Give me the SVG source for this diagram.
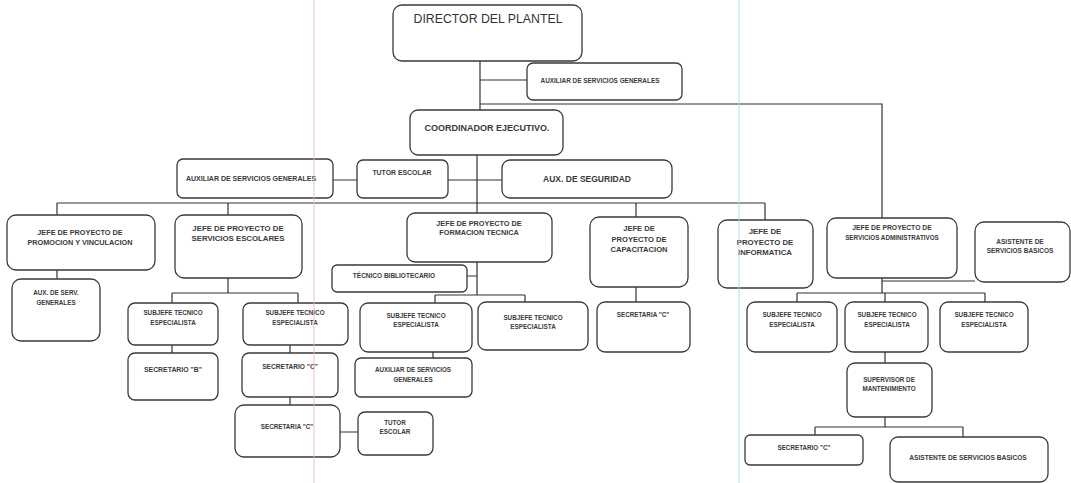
<svg xmlns="http://www.w3.org/2000/svg" width="1071" height="483" viewBox="0 0 1071 483">
<style>
.b{fill:#fff;stroke:#3a3a3a;stroke-width:1.3}
.t{font-family:"Liberation Sans",Arial,sans-serif;font-weight:bold;fill:#3a3a3a;text-anchor:middle}
.c{fill:none;stroke:#333;stroke-width:1.2}
</style>
<rect width="1071" height="483" fill="#fff"/>
<g id="connectors" class="c">
<path d="M480 61V110M480 80H527M480 104H882V218"/>
<path d="M477 155V213M333 180H357M448 180H502"/>
<path d="M57 203H765M57 203V215M765 203V220M228 203V215M636 203V217M57 270V279"/>
<path d="M228 278V293M172 293H298M172 293V303M298 293V303M172 345V353M290 345V353M290 397V405M340 432H358"/>
<path d="M467 276H477M477 262V295M435 295H525M435 295V303M525 295V302M433 352V358"/>
<path d="M636 287V302"/>
<path d="M882 278V293M797 293H985M797 293V302M985 293V302M885 293V302M882 281H975"/>
<path d="M885 352V363M885 417V427M815 427H963M815 427V435M963 427V437"/>
</g>
<g id="director"><rect class="b" x="393" y="5" width="189" height="56" rx="9"/><text x="488" y="23" font-family="Liberation Sans, Arial, sans-serif" font-size="12.3" fill="#333" text-anchor="middle">DIRECTOR DEL PLANTEL</text></g>
<g id="aux_top"><rect class="b" x="527" y="63" width="155" height="37" rx="6"/><text class="t" x="600" y="83" font-size="6.4">AUXILIAR DE SERVICIOS GENERALES</text></g>
<g id="coordinador"><rect class="b" x="410" y="110" width="153" height="45" rx="8"/><text class="t" x="487" y="131" font-size="9">COORDINADOR EJECUTIVO.</text></g>
<g id="aux_row2"><rect class="b" x="177" y="159" width="156" height="39" rx="6"/><text class="t" x="251" y="181" font-size="7">AUXILIAR DE SERVICIOS GENERALES</text></g>
<g id="tutor1"><rect class="b" x="357" y="160" width="91" height="38" rx="6"/><text class="t" x="402" y="175" font-size="6.9">TUTOR ESCOLAR</text></g>
<g id="aux_seg"><rect class="b" x="502" y="160" width="170" height="38" rx="8"/><text class="t" x="587" y="182" font-size="8.5">AUX. DE SEGURIDAD</text></g>
<g id="jefe_prom"><rect class="b" x="7" y="215" width="148" height="55" rx="9"/><text class="t" x="80" y="235" font-size="7.3">JEFE DE PROYECTO DE</text><text class="t" x="80" y="245" font-size="7.3">PROMOCION Y VINCULACION</text></g>
<g id="aux_serv_gen"><rect class="b" x="12" y="279" width="88" height="62" rx="9"/><text class="t" x="56" y="295" font-size="6.3">AUX. DE SERV.</text><text class="t" x="56" y="305" font-size="6.3">GENERALES</text></g>
<g id="jefe_esc"><rect class="b" x="175" y="215" width="127" height="63" rx="9"/><text class="t" x="238" y="231" font-size="7.8">JEFE DE PROYECTO DE</text><text class="t" x="238" y="241" font-size="7.8">SERVICIOS ESCOLARES</text></g>
<g id="jefe_ft"><rect class="b" x="407" y="213" width="145" height="49" rx="8"/><text class="t" x="479" y="226" font-size="7.3">JEFE DE PROYECTO DE</text><text class="t" x="479" y="235" font-size="7.3">FORMACION TECNICA</text></g>
<g id="tec_bib"><rect class="b" x="332" y="265" width="135" height="27" rx="5"/><text class="t" x="394" y="278" font-size="6.5">TÉCNICO BIBLIOTECARIO</text></g>
<g id="jefe_cap"><rect class="b" x="590" y="217" width="98" height="70" rx="9"/><text class="t" x="639" y="231" font-size="7.6">JEFE  DE</text><text class="t" x="639" y="242" font-size="7.6">PROYECTO DE</text><text class="t" x="639" y="252" font-size="7.6">CAPACITACION</text></g>
<g id="jefe_inf"><rect class="b" x="718" y="220" width="95" height="68" rx="9"/><text class="t" x="765" y="234" font-size="7.8">JEFE DE</text><text class="t" x="765" y="245" font-size="7.8">PROYECTO DE</text><text class="t" x="765" y="255" font-size="7.8">INFORMATICA</text></g>
<g id="jefe_adm"><rect class="b" x="827" y="218" width="130" height="60" rx="9"/><text class="t" x="892" y="230" font-size="6.8">JEFE DE PROYECTO DE</text><text class="t" x="892" y="240" font-size="6.3">SERVICIOS ADMINISTRATIVOS</text></g>
<g id="asist_bas"><rect class="b" x="975" y="222" width="95" height="60" rx="9"/><text class="t" x="1020" y="244" font-size="6.5">ASISTENTE DE</text><text class="t" x="1020" y="253" font-size="6.5">SERVICIOS BASICOS</text></g>
<g id="sub_esc1"><rect class="b" x="128" y="303" width="90" height="42" rx="7"/><text class="t" x="173" y="315" font-size="6.3">SUBJEFE TECNICO</text><text class="t" x="173" y="325" font-size="6.3">ESPECIALISTA</text></g>
<g id="sub_esc2"><rect class="b" x="243" y="303" width="105" height="42" rx="7"/><text class="t" x="295" y="315" font-size="6.3">SUBJEFE TECNICO</text><text class="t" x="295" y="325" font-size="6.3">ESPECIALISTA</text></g>
<g id="sec_b"><rect class="b" x="128" y="353" width="90" height="47" rx="7"/><text class="t" x="173" y="372" font-size="6.9">SECRETARIO "B"</text></g>
<g id="sec_c1"><rect class="b" x="242" y="353" width="96" height="44" rx="7"/><text class="t" x="290" y="369" font-size="6.6">SECRETARIO  "C"</text></g>
<g id="secretaria_c1"><rect class="b" x="235" y="405" width="105" height="52" rx="9"/><text class="t" x="287" y="429" font-size="6.3">SECRETARIA "C"</text></g>
<g id="tutor2"><rect class="b" x="358" y="412" width="75" height="43" rx="7"/><text class="t" x="395" y="425" font-size="6.3">TUTOR</text><text class="t" x="395" y="434" font-size="6.3">ESCOLAR</text></g>
<g id="sub_ft1"><rect class="b" x="360" y="303" width="112" height="49" rx="8"/><text class="t" x="416" y="318" font-size="6.3">SUBJEFE TECNICO</text><text class="t" x="416" y="327" font-size="6.3">ESPECIALISTA</text></g>
<g id="aux_ft"><rect class="b" x="355" y="358" width="117" height="39" rx="6"/><text class="t" x="413" y="372" font-size="6.3">AUXILIAR DE SERVICIOS</text><text class="t" x="413" y="382" font-size="6.3">GENERALES</text></g>
<g id="sub_ft2"><rect class="b" x="478" y="302" width="110" height="48" rx="8"/><text class="t" x="533" y="320" font-size="6.3">SUBJEFE TECNICO</text><text class="t" x="533" y="329" font-size="6.3">ESPECIALISTA</text></g>
<g id="secretaria_cap"><rect class="b" x="597" y="302" width="93" height="50" rx="8"/><text class="t" x="643" y="317" font-size="6.3">SECRETARIA "C"</text></g>
<g id="sub_a1"><rect class="b" x="747" y="302" width="90" height="50" rx="8"/><text class="t" x="792" y="317" font-size="6.3">SUBJEFE TECNICO</text><text class="t" x="792" y="327" font-size="6.3">ESPECIALISTA</text></g>
<g id="sub_a2"><rect class="b" x="845" y="302" width="83" height="50" rx="8"/><text class="t" x="887" y="317" font-size="6.3">SUBJEFE TECNICO</text><text class="t" x="887" y="327" font-size="6.3">ESPECIALISTA</text></g>
<g id="sub_a3"><rect class="b" x="940" y="302" width="88" height="50" rx="8"/><text class="t" x="984" y="317" font-size="6.3">SUBJEFE TECNICO</text><text class="t" x="984" y="327" font-size="6.3">ESPECIALISTA</text></g>
<g id="supervisor"><rect class="b" x="847" y="363" width="85" height="54" rx="8"/><text class="t" x="889" y="382" font-size="6.3">SUPERVISOR DE</text><text class="t" x="889" y="391" font-size="6.3">MANTENIMIENTO</text></g>
<g id="sec_c_bottom"><rect class="b" x="745" y="435" width="118" height="30" rx="5"/><text class="t" x="804" y="450" font-size="6.3">SECRETARIO "C"</text></g>
<g id="asist_bas2"><rect class="b" x="890" y="437" width="158" height="45" rx="8"/><text class="t" x="968" y="460" font-size="6.6">ASISTENTE DE SERVICIOS BASICOS</text></g>
<g id="scan-guides" opacity="0.6"><path d="M314 0V483" stroke="#f2b8bf" stroke-width="1.5"/><path d="M739 0V483" stroke="#a8e0dc" stroke-width="1.5"/></g>
</svg>
